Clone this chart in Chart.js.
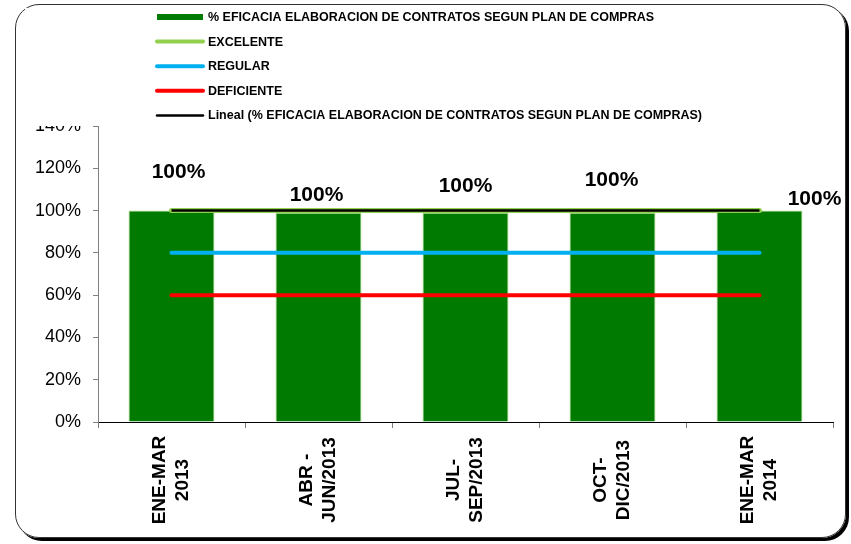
<!DOCTYPE html>
<html>
<head>
<meta charset="utf-8">
<script src="https://cdn.jsdelivr.net/npm/chart.js@4"></script>
<style>
    html, body { margin: 0; padding: 0; background: #fff; }
    #wrap { position: relative; width: 851px; height: 544px; }
    #frame {
        position: absolute; left: 15px; top: 4px; width: 829px; height: 532px;
        border: 1px solid #333; border-radius: 24px;
        box-shadow: 3px 3px 0 #000;
    }
    canvas { position: absolute; left: 0; top: 0; }
</style>
</head>
<body>
<div id="wrap">
    <div id="frame"></div>
    <canvas id="chart" width="851" height="544"></canvas>
</div>
<script>
// Data
const categories = [['ENE-MAR', '2013'], ['ABR -', 'JUN/2013'], ['JUL-', 'SEP/2013'], ['OCT-', 'DIC/2013'], ['ENE-MAR', '2014']];
const eficacia = [100, 99, 99, 99, 100];
const excelente = [100, 100, 100, 100, 100];
const regular = [80, 80, 80, 80, 80];
const deficiente = [60, 60, 60, 60, 60];
const lineal = [100, 100, 100, 100, 100];
const valueLabels = ['100%', '100%', '100%', '100%', '100%'];

const FONT = "'Liberation Sans', Arial, sans-serif";

// hand-placed data labels (dx, dy from top of bar), like the original sheet
const labelOffsets = [[7, -38], [-2, -17], [0, -26], [-1, -32], [55, -11]];

const legendItems = [
    { text: '% EFICACIA ELABORACION DE CONTRATOS SEGUN PLAN DE COMPRAS', color: '#007A00', width: 6 },
    { text: 'EXCELENTE', color: '#92D050', width: 4 },
    { text: 'REGULAR', color: '#00B0F0', width: 4 },
    { text: 'DEFICIENTE', color: '#FF0000', width: 4 },
    { text: 'Lineal (% EFICACIA ELABORACION DE CONTRATOS SEGUN PLAN DE COMPRAS)', color: '#000000', width: 2.5 }
];

// Custom drawing: bar labels, rotated category labels, legend
const extrasPlugin = {
    id: 'extras',
    afterDraw(chart) {
        const ctx = chart.ctx;
        const xs = chart.scales.x;
        const ys = chart.scales.y;

        // bar value labels
        ctx.save();
        ctx.font = 'bold 21px ' + FONT;
        ctx.fillStyle = '#000';
        ctx.textAlign = 'center';
        ctx.textBaseline = 'middle';
        eficacia.forEach((v, i) => {
            const x = xs.getPixelForValue(i) + labelOffsets[i][0];
            const y = ys.getPixelForValue(v) + labelOffsets[i][1];
            ctx.fillText(valueLabels[i], x, y);
        });
        ctx.restore();

        // category labels, rotated and centred
        ctx.save();
        ctx.font = 'bold 19px ' + FONT;
        ctx.fillStyle = '#000';
        ctx.textAlign = 'center';
        ctx.textBaseline = 'middle';
        const lh = 23;
        categories.forEach((lines, i) => {
            const x = xs.getPixelForValue(i);
            ctx.save();
            ctx.translate(x, xs.top + 58);
            ctx.rotate(-Math.PI / 2);
            lines.forEach((t, j) => {
                ctx.fillText(t, 0, (j - (lines.length - 1) / 2) * lh);
            });
            ctx.restore();
        });
        ctx.restore();

        // legend box (white, hides top of the axis)
        ctx.save();
        ctx.fillStyle = '#fff';
        ctx.fillRect(25, 8, 720, 118);
        ctx.font = 'bold 12.5px ' + FONT;
        ctx.textBaseline = 'middle';
        ctx.textAlign = 'left';
        legendItems.forEach((item, i) => {
            const y = 17 + i * 24.6;
            ctx.beginPath();
            ctx.strokeStyle = item.color;
            ctx.lineWidth = item.width;
            ctx.lineCap = i === 0 ? 'butt' : 'round';
            ctx.moveTo(157, y);
            ctx.lineTo(203, y);
            ctx.stroke();
            ctx.fillStyle = '#000';
            ctx.fillText(item.text, 208, y + 0.5);
        });
        ctx.restore();
    }
};

const ctx = document.getElementById('chart').getContext('2d');
new Chart(ctx, {
    type: 'bar',
    data: {
        labels: categories,
        datasets: [
            {
                type: 'line',
                label: 'Lineal',
                data: lineal,
                borderColor: '#000',
                borderWidth: 2.5,
                pointRadius: 0,
                order: 0
            },
            {
                type: 'line',
                label: 'DEFICIENTE',
                data: deficiente,
                borderColor: '#FF0000',
                borderWidth: 4,
                borderCapStyle: 'round',
                pointRadius: 0,
                order: 1
            },
            {
                type: 'line',
                label: 'REGULAR',
                data: regular,
                borderColor: '#00B0F0',
                borderWidth: 4,
                borderCapStyle: 'round',
                pointRadius: 0,
                order: 2
            },
            {
                type: 'line',
                label: 'EXCELENTE',
                data: excelente,
                borderColor: '#92D050',
                borderWidth: 5,
                borderCapStyle: 'round',
                pointRadius: 0,
                order: 3
            },
            {
                label: '% EFICACIA ELABORACION DE CONTRATOS SEGUN PLAN DE COMPRAS',
                data: eficacia,
                backgroundColor: '#007A00',
                borderColor: 'rgba(146, 208, 80, 0.7)',
                borderWidth: 1,
                categoryPercentage: 1,
                barPercentage: 0.585,
                order: 5
            }
        ]
    },
    options: {
        responsive: false,
        animation: false,
        layout: { padding: { left: 0, right: 18, top: 126, bottom: 0 } },
        plugins: {
            legend: { display: false },
            tooltip: { enabled: false }
        },
        scales: {
            x: {
                afterFit: s => { s.height = 122; },
                grid: {
                    offset: true,
                    drawOnChartArea: false,
                    tickLength: 6,
                    color: '#808080'
                },
                border: { color: '#000', width: 1 },
                ticks: { display: false }
            },
            y: {
                min: 0,
                max: 140,
                afterFit: s => { s.width = 98; },
                grid: {
                    drawOnChartArea: false,
                    tickLength: 5,
                    color: '#808080'
                },
                border: { color: '#808080', width: 1 },
                ticks: {
                    stepSize: 20,
                    padding: 12,
                    color: '#000',
                    font: { family: FONT, size: 18 },
                    callback: v => v + '%'
                }
            }
        }
    },
    plugins: [extrasPlugin]
});
</script>
</body>
</html>
